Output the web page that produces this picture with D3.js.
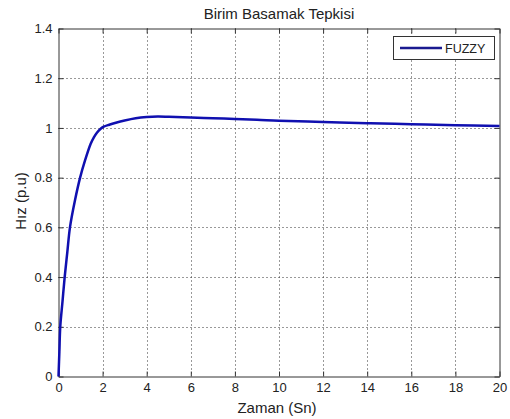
<!DOCTYPE html>
<html><head><meta charset="utf-8">
<script src="https://cdn.jsdelivr.net/npm/d3@7"></script>
<style>
body{margin:0;background:#fff;}
text{font-family:"Liberation Sans",Arial,sans-serif;}
</style></head>
<body><svg id="c" width="510" height="419"></svg>
<script>
const timeValues = [0,0.04,0.08,0.18,0.28,0.4,0.52,0.75,0.98,1.2,1.46,1.61,1.75,1.9,2.05,2.3,2.6,3,3.5,4,4.5,5,6,7,8,9,10,12,14,16,18,20];
const fuzzyValues = [0,0.1,0.2,0.3,0.4,0.5,0.6,0.71,0.8,0.868,0.936,0.963,0.982,0.996,1.005,1.013,1.021,1.03,1.039,1.044,1.046,1.045,1.042,1.039,1.036,1.033,1.029,1.024,1.019,1.015,1.011,1.008];
const xTicks = [0,2,4,6,8,10,12,14,16,18,20];
const yTicks = [0,0.2,0.4,0.6,0.8,1,1.2,1.4];
const seriesName = "FUZZY";
const titleText = "Birim Basamak Tepkisi";
const xLabel = "Zaman (Sn)";
const yLabel = "Hız (p.u)";

const svg = d3.select("#c");
const L=58.5, R=499.5, T=28.5, B=376.5;
const x = d3.scaleLinear().domain([0,20]).range([L,R]);
const y = d3.scaleLinear().domain([0,1.4]).range([B,T]);

// grid
const g = svg.append("g");
g.selectAll(".gx").data(xTicks.slice(1,-1)).enter().append("line")
 .attr("x1",d=>Math.round(x(d))+0.5).attr("x2",d=>Math.round(x(d))+0.5).attr("y1",T).attr("y2",B)
 .attr("stroke","#333").attr("stroke-width",1).attr("stroke-dasharray","1,3");
g.selectAll(".gy").data(yTicks.slice(1,-1)).enter().append("line")
 .attr("y1",d=>Math.round(y(d))+0.5).attr("y2",d=>Math.round(y(d))+0.5).attr("x1",L).attr("x2",R)
 .attr("stroke","#333").attr("stroke-width",1).attr("stroke-dasharray","1,3");

// axes
const fmt = d=>String(d);
const axB = svg.append("g").attr("transform",`translate(0,${B})`)
 .call(d3.axisBottom(x).tickValues(xTicks).tickFormat(fmt).tickSizeInner(-5).tickSizeOuter(0).tickPadding(6));
const axL = svg.append("g").attr("transform",`translate(${L},0)`)
 .call(d3.axisLeft(y).tickValues(yTicks).tickFormat(fmt).tickSizeInner(-5).tickSizeOuter(0).tickPadding(6));
const axT = svg.append("g").attr("transform",`translate(0,${T})`)
 .call(d3.axisTop(x).tickValues(xTicks).tickFormat("").tickSizeInner(-5).tickSizeOuter(0));
const axR = svg.append("g").attr("transform",`translate(${R},0)`)
 .call(d3.axisRight(y).tickValues(yTicks).tickFormat("").tickSizeInner(-5).tickSizeOuter(0));
[axB,axL,axT,axR].forEach(a=>{
  a.selectAll("path").attr("stroke","#333");
  a.selectAll("line").attr("stroke","#333");
  a.selectAll("text").attr("font-size","13px").attr("fill","#222").attr("font-family","Liberation Sans, Arial, sans-serif");
});

// line
const data = timeValues.map((t,i)=>({t,v:fuzzyValues[i]}));
svg.append("path").datum(data)
 .attr("fill","none").attr("stroke","#1010b0").attr("stroke-width",2.5)
 .attr("d",d3.line().x(d=>x(d.t)).y(d=>y(d.v)).curve(d3.curveCatmullRom.alpha(0.5)));

// legend
const lg = svg.append("g");
lg.append("rect").attr("x",393.5).attr("y",36.5).attr("width",101).attr("height",23)
 .attr("fill","#fff").attr("stroke","#333");
lg.append("line").attr("x1",400).attr("x2",442).attr("y1",48).attr("y2",48)
 .attr("stroke","#1a1a90").attr("stroke-width",2.5);
lg.append("text").attr("x",445).attr("y",52.5).attr("font-size","12.5px").attr("fill","#222").text(seriesName);

// labels
svg.append("text").attr("x",(L+R)/2).attr("y",18.5).attr("text-anchor","middle").attr("font-size","15px").attr("fill","#222").text(titleText);
svg.append("text").attr("x",(L+R)/2 - 2).attr("y",412.5).attr("text-anchor","middle").attr("font-size","15px").attr("fill","#222").text(xLabel);
svg.append("text").attr("transform",`translate(26,201) rotate(-90)`).attr("text-anchor","middle").attr("font-size","15px").attr("fill","#222").text(yLabel);
</script></body></html>
